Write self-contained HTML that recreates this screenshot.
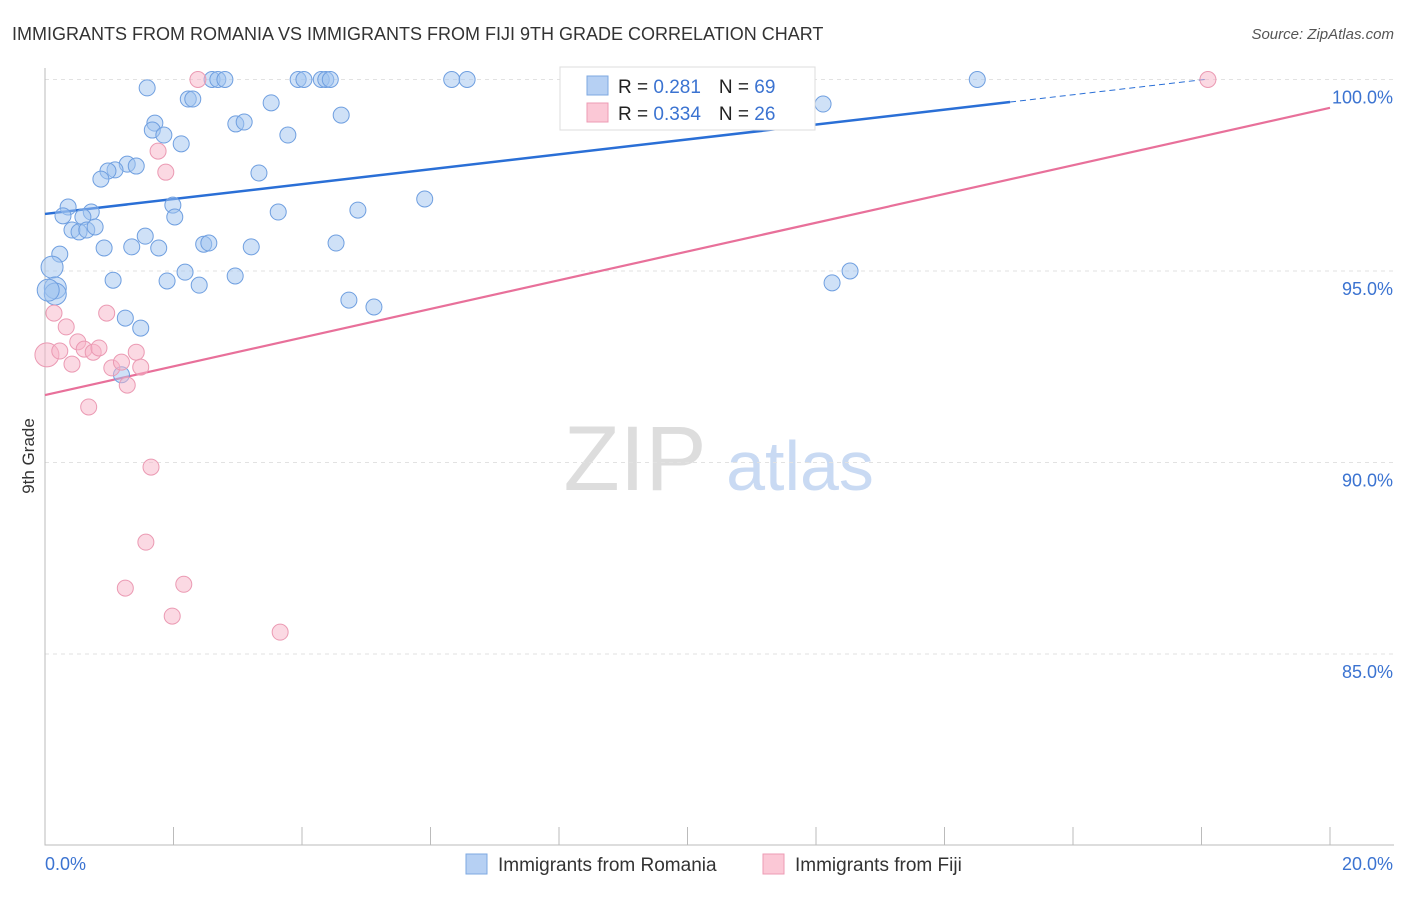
<!DOCTYPE html>
<html><head><meta charset="utf-8"><style>
body{margin:0;background:#fff;font-family:"Liberation Sans",sans-serif;}
svg text{font-family:"Liberation Sans",sans-serif;}
</style></head><body>
<svg id="chart" width="1406" height="892" xmlns="http://www.w3.org/2000/svg">
<text x="12" y="40" font-size="18" fill="#333">IMMIGRANTS FROM ROMANIA VS IMMIGRANTS FROM FIJI 9TH GRADE CORRELATION CHART</text>
<text x="1394" y="39" font-size="15" fill="#555" font-style="italic" text-anchor="end">Source: ZipAtlas.com</text>
<text x="34" y="456" font-size="17" fill="#333" transform="rotate(-90 34 456)" text-anchor="middle">9th Grade</text>
<g><text x="635" y="490" font-size="92" fill="#ddd" font-family="Liberation Serif" text-anchor="middle">ZIP</text><text x="800" y="490" font-size="70" fill="#c9daf3" text-anchor="middle">atlas</text></g>
<g id="grid"></g><g id="axes"></g><g id="lines"></g><g id="pts"></g>
<g>
<rect x="560" y="67" width="255" height="63" fill="#fff" stroke="#ddd"/>
<rect x="587" y="76" width="21" height="19" fill="#b6d0f3" stroke="#7ea8e2"/>
<rect x="587" y="103" width="21" height="19" fill="#fbc8d6" stroke="#ee9bb4"/>
<text x="618" y="93" font-size="19" fill="#222">R = <tspan fill="#3b73d1"> 0.281</tspan><tspan dx="18">N = </tspan><tspan fill="#3b73d1">69</tspan></text>
<text x="618" y="120" font-size="19" fill="#222">R = <tspan fill="#3b73d1">0.334</tspan><tspan dx="18">N = </tspan><tspan fill="#3b73d1">26</tspan></text>
</g>
<g>
<rect x="466" y="854" width="21" height="20" fill="#b6d0f3" stroke="#7ea8e2"/>
<text x="498" y="871" font-size="19" fill="#333">Immigrants from Romania</text>
<rect x="763" y="854" width="21" height="20" fill="#fbc8d6" stroke="#ee9bb4"/>
<text x="795" y="871" font-size="19" fill="#333">Immigrants from Fiji</text>
</g>
</svg>
<script>
const xTicks=[0,2,4,6,8,10,12,14,16,18,20];
const yTicks=[100,95,90,85];
const yTickLabels=["100.0%","95.0%","90.0%","85.0%"];
const xEndLabels=["0.0%","20.0%"];
const romaniaX=[1.59,2.60,2.69,2.80,3.94,4.03,4.30,4.37,4.44,6.33,6.57,9.10,14.51,12.11,2.23,2.30,3.52,4.61,1.71,1.67,1.85,2.97,3.10,3.78,2.12,1.28,1.42,1.09,0.98,0.87,3.33,5.91,1.99,2.02,3.63,4.87,0.36,0.72,0.28,0.59,0.42,0.53,0.65,0.78,1.56,0.92,1.35,1.77,2.47,2.55,3.21,4.53,0.23,0.11,2.18,2.96,1.90,2.40,1.06,0.16,0.16,4.73,5.12,12.25,12.53,1.25,1.49,1.19,0.05];
const romaniaY=[99.78,100,100,100,100,100,100,100,100,100,100,100,100,99.36,99.49,99.49,99.39,99.07,98.86,98.68,98.55,98.84,98.89,98.55,98.32,97.79,97.74,97.64,97.61,97.40,97.56,96.88,96.72,96.41,96.54,96.59,96.67,96.54,96.44,96.41,96.07,96.02,96.07,96.15,95.91,95.60,95.63,95.60,95.70,95.73,95.63,95.73,95.44,95.10,94.97,94.87,94.74,94.63,94.76,94.56,94.40,94.24,94.06,94.69,95.0,93.77,93.51,92.29,94.5];
const fijiX=[2.38,18.10,1.76,1.88,0.14,0.96,0.33,0.03,0.23,0.51,0.61,0.75,0.84,0.42,1.04,1.19,1.42,1.49,1.28,0.68,1.65,1.57,1.25,2.16,1.98,3.66];
const fijiY=[100,100,98.13,97.58,93.9,93.9,93.54,92.81,92.91,93.15,92.96,92.88,92.99,92.57,92.47,92.62,92.88,92.49,92.02,91.45,89.88,87.92,86.72,86.82,85.99,85.57];
const romaniaTrend=[96.49,0.1945];
const fijiTrend=[91.76,0.375];
const NS="http://www.w3.org/2000/svg";
const X=v=>45+v/20*1285, Y=v=>79.5+(100-v)*38.3;
function mk(p,t,a){const e=document.createElementNS(NS,t);for(const k in a)e.setAttribute(k,a[k]);document.getElementById(p).appendChild(e);return e;}
yTicks.forEach((t,i)=>{
 const g=mk('grid','line',{x1:45,x2:1394,y1:Y(t),y2:Y(t),stroke:'#e2e2e2','stroke-dasharray':'4,4'});
 
 
 const l=mk('grid','text',{x:1393,y:Y(t)+24,'font-size':18,fill:'#3b73d1','text-anchor':'end'});l.textContent=yTickLabels[i];
 
 
});
const ax=mk('axes','path',{d:'M45 68V845H1394',stroke:'#bbb',fill:'none'});


xTicks.forEach(t=>{const k=mk('axes','line',{x1:X(t),x2:X(t),y1:827,y2:845,stroke:'#bbb'});
 
 });
[[0,45,'start'],[20,1393,'end']].forEach((d,i)=>{const l=mk('axes','text',{x:d[1],y:870,'font-size':18,fill:'#3b73d1','text-anchor':d[2]});l.textContent=xEndLabels[i];
 
 });
const tl=(tr,x)=>tr[0]+tr[1]*x;
let e=mk('lines','line',{x1:X(0),y1:Y(tl(romaniaTrend,0)),x2:X(15.02),y2:Y(tl(romaniaTrend,15.02)),stroke:'#2a6fd6','stroke-width':2.5});


e=mk('lines','line',{x1:X(15.02),y1:Y(tl(romaniaTrend,15.02)),x2:X(18.1),y2:Y(tl(romaniaTrend,18.1)),stroke:'#2a6fd6','stroke-width':1,'stroke-dasharray':'6,4'});


e=mk('lines','line',{x1:X(0),y1:Y(tl(fijiTrend,0)),x2:X(20),y2:Y(tl(fijiTrend,20)),stroke:'#e8709a','stroke-width':2.2});


romaniaX.forEach((x,i)=>{const c=mk('pts','circle',{cx:X(x),cy:Y(romaniaY[i]),r:(x<0.2&&romaniaY[i]<95.2)?11:8,fill:'rgba(160,195,240,0.5)',stroke:'#6f9fe0','stroke-width':1});
 
 });
fijiX.forEach((x,i)=>{const c=mk('pts','circle',{cx:X(x),cy:Y(fijiY[i]),r:x<0.05?12:8,fill:'rgba(248,180,200,0.5)',stroke:'#eb9ab3','stroke-width':1});
 
 });
</script>
</body></html>
